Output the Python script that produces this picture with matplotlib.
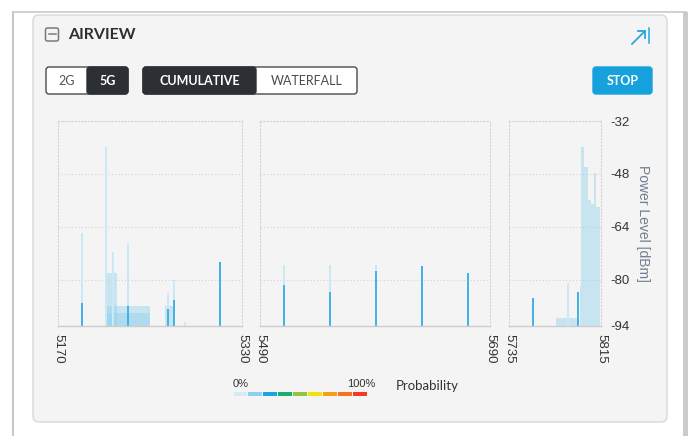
import matplotlib
matplotlib.use("Agg")
import matplotlib.pyplot as plt
from matplotlib.patches import FancyBboxPatch, Rectangle
from matplotlib.lines import Line2D

plt.rcParams['axes.unicode_minus'] = False

# ---------------- data ----------------
panel_ranges = [(5170, 5330), (5490, 5690), (5735, 5815)]
power_ticks = [-32, -48, -64, -80, -94]
power_min, power_max = -94, -32

# narrow spikes: frequency (MHz), faint top (dBm), strong-core top (dBm)
spike_freq = [5190.6, 5211.5, 5217.8, 5231.0, 5265.6, 5271.0, 5280.4, 5310.9,
              5511, 5551, 5591, 5631, 5671,
              5755.5, 5786, 5795]
spike_top = [-66, -40, -71.5, -69, -84, -80, -92.7, -74.5,
             -75.5, -75.5, -75.5, -76, -78,
             -85.5, -81, -83.6]
spike_core = [-87, -94, -94, -88, -89, -86, -94, -74.5,
              -81.6, -83.6, -77.5, -76, -78,
              -85.5, -94, -83.6]

# wider occupied blocks: start, end (MHz), top (dBm)
block_lo = [5211, 5211, 5211, 5263, 5776, 5796.5, 5797.5, 5800.5, 5803.5, 5806, 5808.5, 5811]
block_hi = [5221, 5250, 5250, 5272, 5795, 5797.5, 5800.5, 5803.5, 5806, 5808.5, 5811, 5814]
block_top = [-78, -88, -90, -88, -91.6, -82, -40, -45.8, -56, -57, -47.7, -58]

legend_colors = ['#d3eaf7', '#8ed0f0', '#1ca4e0', '#1cad72', '#8dc63f',
                 '#f3e00e', '#f6a01a', '#f5741b', '#f23b20']

# ---------------- figure ----------------
W, H = 690, 436
fig = plt.figure(figsize=(W / 100, H / 100), dpi=100)
fig.patch.set_facecolor('white')

def rect(x0, y0, x1, y1):
    return [x0 / W, 1 - y1 / H, (x1 - x0) / W, (y1 - y0) / H]

bg = fig.add_axes([0, 0, 1, 1])
bg.set_xlim(0, W)
bg.set_ylim(H, 0)
bg.axis('off')

# outer frame
bg.add_line(Line2D([13, 13], [12, H], color='#c8c8c8', lw=1.5))
bg.add_line(Line2D([13, 686], [12, 12], color='#c8c8c8', lw=1.2))
bg.add_patch(Rectangle((683, 12), 5, H - 12, color='#cbcbcb', lw=0))

# card
bg.add_patch(FancyBboxPatch((33, 15), 634, 407,
                            boxstyle="round,pad=0,rounding_size=6",
                            fc='#f4f4f4', ec='#d8d8d8', lw=1))

# header
bg.add_patch(FancyBboxPatch((45.5, 28), 13, 13, boxstyle="round,pad=0,rounding_size=2",
                            fc='none', ec='#7a7a7a', lw=1.1))
bg.add_line(Line2D([48.5, 55.5], [34.5, 34.5], color='#7a7a7a', lw=1.1))
bg.text(68, 35, 'AIRVIEW', fontsize=11.5, fontweight='bold', family='Lato',
        color='#2f2f2f', va='center', ha='left')
# expand icon
blue_icon = '#2aa6de'
bg.add_line(Line2D([632, 645], [44, 31], color=blue_icon, lw=1.3))
bg.add_line(Line2D([638, 645, 645], [31, 31, 38], color=blue_icon, lw=1.3))
bg.add_line(Line2D([649, 649], [28, 43], color=blue_icon, lw=1.1))

# buttons
def button(x0, x1, fc, ec, text, tc, weight):
    bg.add_patch(FancyBboxPatch((x0, 67), x1 - x0, 27,
                                boxstyle="round,pad=0,rounding_size=3",
                                fc=fc, ec=ec, lw=1))
    bg.text((x0 + x1) / 2, 81, text, fontsize=9, family='Lato',
            fontweight=weight, color=tc, ha='center', va='center')

dark = '#2c2f34'
bg.add_patch(FancyBboxPatch((46, 67), 82, 27, boxstyle="round,pad=0,rounding_size=3",
                            fc='white', ec='#4a4a4a', lw=1))
button(87, 128, dark, dark, '5G', 'white', 'bold')
bg.text(66.5, 81, '2G', fontsize=9, family='Lato', color='#555555',
        ha='center', va='center')
bg.add_patch(FancyBboxPatch((143, 67), 214, 27, boxstyle="round,pad=0,rounding_size=3",
                            fc='white', ec='#4a4a4a', lw=1))
button(143, 256, dark, dark, 'CUMULATIVE', 'white', 'bold')
bg.text(306.5, 81, 'WATERFALL', fontsize=9, family='Lato', color='#4a4a4a',
        ha='center', va='center')
button(593, 652, '#16a1dd', '#16a1dd', 'STOP', 'white', 'bold')

# ---------------- panels ----------------
px_per_mhz = 1.15
x_start = [58, 260, 509]
top_px, bot_px = 121, 326
grid_col = '#d2d2d2'
faint_col = '#cbe8f6'
block_col = '#8fcfee'
core_col = '#45b2e6'

axes = []
for i, (lo, hi) in enumerate(panel_ranges):
    x0 = x_start[i]
    x1 = x0 + (hi - lo) * px_per_mhz
    ax = fig.add_axes(rect(x0, top_px, x1, bot_px))
    ax.set_facecolor('none')
    ax.set_xlim(lo, hi)
    ax.set_ylim(power_min, power_max)
    ax.set_yticks(power_ticks)
    ax.grid(axis='y', ls=(0, (1, 2)), color=grid_col, lw=0.8)
    ax.set_axisbelow(True)
    for s in ['left', 'right', 'top']:
        ax.spines[s].set_linestyle((0, (1, 2)))
        ax.spines[s].set_color(grid_col)
        ax.spines[s].set_linewidth(0.8)
    ax.spines['bottom'].set_color('#cccccc')
    ax.spines['bottom'].set_linewidth(1)
    ax.set_xticks([lo, hi])
    ax.set_xticklabels([str(lo), str(hi)], rotation=270, family='Liberation Sans',
                       fontsize=9.5, color='#333333')
    ax.tick_params(axis='x', length=0, pad=6)
    if i == 2:
        ax.yaxis.tick_right()
        ax.tick_params(axis='y', length=0, pad=7, labelsize=9.5, labelcolor='#333333')
        for lab in ax.get_yticklabels():
            lab.set_family('Liberation Sans')
    else:
        ax.tick_params(axis='y', length=0, labelleft=False, labelright=False)

    # blocks
    for blo, bhi, btop in zip(block_lo, block_hi, block_top):
        if lo <= blo < hi:
            ax.bar(blo, btop - power_min, bottom=power_min, width=bhi - blo,
                   align='edge', color=block_col, alpha=0.42, lw=0)
    # spikes
    for f, t, c in zip(spike_freq, spike_top, spike_core):
        if lo <= f <= hi:
            ax.bar(f, t - power_min, bottom=power_min, width=1.7,
                   color=faint_col, lw=0)
            if c > power_min:
                ax.bar(f, c - power_min, bottom=power_min, width=1.7,
                       color=core_col, lw=0)
    axes.append(ax)

bg.text(643, 223, 'Power Level [dBm]', rotation=270, fontsize=10,
        family='Liberation Sans', color='#6f7d90', ha='center', va='center')

# ---------------- legend ----------------
lx0, lx1 = 233, 367
seg_w = (lx1 - lx0) / len(legend_colors)
for k, c in enumerate(legend_colors):
    bg.add_patch(Rectangle((lx0 + k * seg_w + 0.5, 391.5), seg_w - 1, 4, color=c, lw=0))
bg.text(233, 383.5, '0%', fontsize=8, family='Liberation Sans', color='#333333',
        ha='left', va='center')
bg.text(375, 383.5, '100%', fontsize=8, family='Liberation Sans', color='#333333',
        ha='right', va='center')
bg.text(396, 386, 'Probability', fontsize=9.5, family='Lato', color='#333333',
        ha='left', va='center')

fig.savefig('out.png', dpi=100, facecolor='white')
